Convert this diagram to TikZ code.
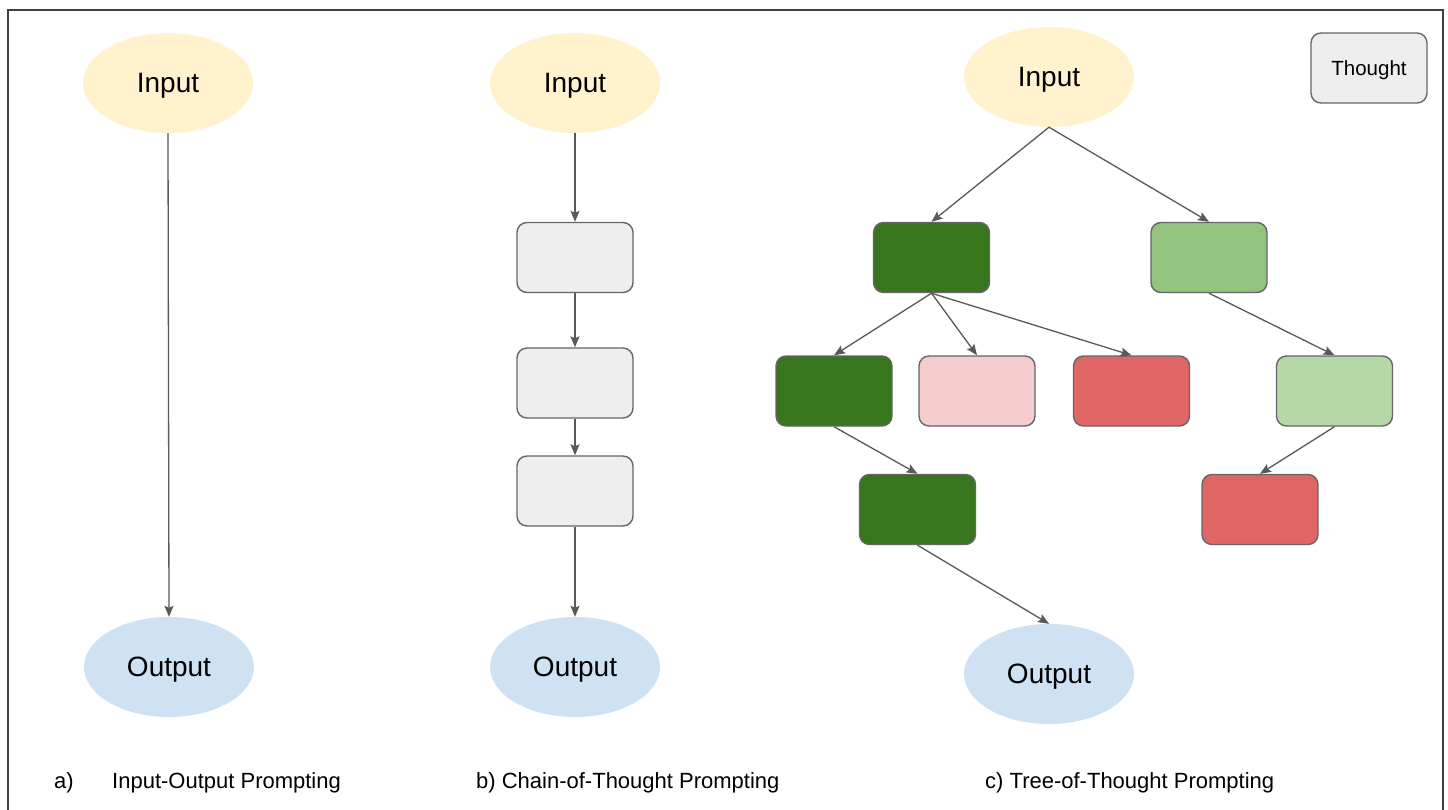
\documentclass[tikz,border=0pt]{standalone}
\usepackage{fontspec}
\setmainfont{Liberation Sans}
\usetikzlibrary{shapes.geometric,arrows.meta}
\definecolor{inyellow}{HTML}{FFF2CC}
\definecolor{outblue}{HTML}{CFE2F3}
\definecolor{thoughtgray}{HTML}{EEEEEE}
\definecolor{edgegray}{HTML}{666666}
\definecolor{arrowgray}{HTML}{595959}
\definecolor{darkgreen}{HTML}{38761D}
\definecolor{midgreen}{HTML}{93C47D}
\definecolor{palegreen}{HTML}{B6D7A8}
\definecolor{palered}{HTML}{F4CCCC}
\definecolor{redbox}{HTML}{E06666}
\tikzset{
  ioell/.style={ellipse, inner sep=0pt, minimum width=170pt, minimum height=100pt,
    text depth=0pt, font=\fontsize{28}{33}\selectfont},
  inell/.style={ioell, fill=inyellow},
  outell/.style={ioell, fill=outblue},
  tbox/.style={rectangle, rounded corners=10pt, draw=edgegray, line width=1.4pt,
    minimum width=116pt, minimum height=70pt, inner sep=0pt, fill=thoughtgray},
  link/.style={draw=arrowgray, line width=1.3pt,
    -{Stealth[length=11pt,width=9pt,inset=2pt]}},
  caption/.style={anchor=base west, inner sep=0pt, font=\fontsize{22}{26}\selectfont}
}
\begin{document}
\begin{tikzpicture}[x=1pt,y=-1pt]
\useasboundingbox (0,0) rectangle (1448,810);
\fill[white] (0,0) rectangle (1448,810);
% outer frame (open at the bottom edge of the page)
\draw[color=black!75, line width=1.5pt] (8,812) -- (8,10) -- (1443,10) -- (1443,812);

% a) input-output
\node[inell]  (ain)  at (168,83)  {Input};
\node[outell] (aout) at (169,667) {Output};
\draw[link] (ain.south) -- (aout.north);

% b) chain of thought
\node[inell]  (bin)  at (575,83)  {Input};
\node[tbox]   (b1)   at (575,257.5) {};
\node[tbox]   (b2)   at (575,383) {};
\node[tbox]   (b3)   at (575,491) {};
\node[outell] (bout) at (575,667) {Output};
\draw[link] (bin.south) -- (b1.north);
\draw[link] (b1.south) -- (b2.north);
\draw[link] (b2.south) -- (b3.north);
\draw[link] (b3.south) -- (bout.north);

% c) tree of thought
\node[inell]  (cin)  at (1049,77) {Input};
\node[tbox, fill=darkgreen] (t1a) at (931.5,257.5) {};
\node[tbox, fill=midgreen]  (t1b) at (1209,257.5) {};
\node[tbox, fill=darkgreen] (t2a) at (834,391) {};
\node[tbox, fill=palered]   (t2b) at (977,391) {};
\node[tbox, fill=redbox]    (t2c) at (1131.5,391) {};
\node[tbox, fill=palegreen] (t2d) at (1334.5,391) {};
\node[tbox, fill=darkgreen] (t3a) at (917.5,509.5) {};
\node[tbox, fill=redbox]    (t3b) at (1260,509.5) {};
\node[outell] (cout) at (1049,674) {Output};
\draw[link] (cin.south) -- (t1a.north);
\draw[link] (cin.south) -- (t1b.north);
\draw[link] (t1a.south) -- (t2a.north);
\draw[link] (t1a.south) -- (t2b.north);
\draw[link] (t1a.south) -- (t2c.north);
\draw[link] (t1b.south) -- (t2d.north);
\draw[link] (t2a.south) -- (t3a.north);
\draw[link] (t2d.south) -- (t3b.north);
\draw[link] (t3a.south) -- (cout.north);

% legend
\node[tbox, text depth=0pt, font=\fontsize{20.5}{24}\selectfont] (legend) at (1369,68) {Thought};

% captions
\node[caption] (capa)  at (54,788)  {a)};
\node[caption] (capa2) at (112,788) {Input-Output Prompting};
\node[caption] (capb)  at (476,788) {b) Chain-of-Thought Prompting};
\node[caption] (capc)  at (985,788) {c) Tree-of-Thought Prompting};
\end{tikzpicture}
\end{document}
